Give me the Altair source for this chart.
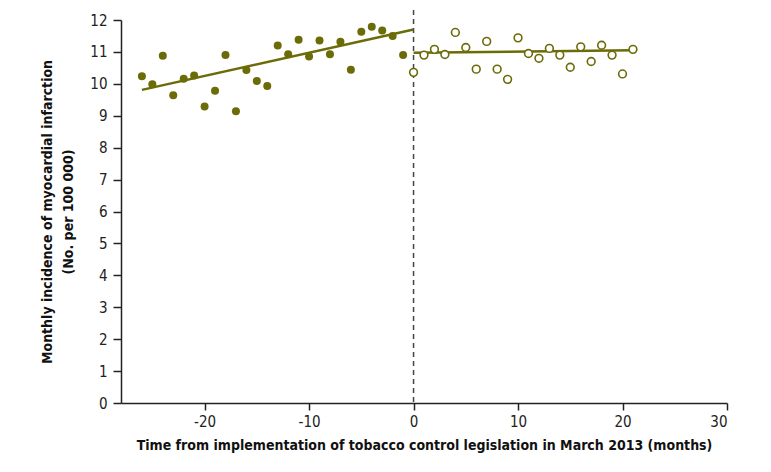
import altair as alt
import pandas as pd

# Pre-legislation months (filled points)
pre_month = [-26, -25, -24, -23, -22, -21, -20, -19, -18, -17, -16, -15, -14,
             -13, -12, -11, -10, -9, -8, -7, -6, -5, -4, -3, -2, -1]
pre_value = [10.24, 9.99, 10.88, 9.64, 10.16, 10.26, 9.29, 9.78, 10.90, 9.14, 10.43, 10.09, 9.93,
             11.20, 10.93, 11.38, 10.86, 11.36, 10.93, 11.32, 10.44, 11.63, 11.79, 11.67, 11.50, 10.90]

# Post-legislation months (open points)
post_month = list(range(0, 22))
post_value = [10.36, 10.90, 11.08, 10.92, 11.61, 11.14, 10.46, 11.33, 10.46, 10.14, 11.44,
              10.95, 10.80, 11.11, 10.90, 10.52, 11.16, 10.70, 11.21, 10.90, 10.31, 11.08]

# Fitted trend lines (segment end points)
pre_fit_month = [-26, 0]
pre_fit_value = [9.81, 11.70]
post_fit_month = [0, 21]
post_fit_value = [10.97, 11.05]

x_ticks = [-20, -10, 0, 10, 20, 30]
y_ticks = list(range(0, 13))

COLOR = "#6b6b08"
FONT = "'DejaVu Sans Condensed', Roboto, sans-serif"

pre_df = pd.DataFrame({"month": pre_month, "value": pre_value})
post_df = pd.DataFrame({"month": post_month, "value": post_value})
pre_fit = pd.DataFrame({"month": pre_fit_month, "value": pre_fit_value})
post_fit = pd.DataFrame({"month": post_fit_month, "value": post_fit_value})
zero_df = pd.DataFrame({"month": [0]})

W, H = 606, 383

xscale = alt.Scale(domain=[-28, 30], nice=False, zero=False)
yscale = alt.Scale(domain=[0, 12], nice=False)

xaxis = alt.Axis(values=x_ticks, title="Time from implementation of tobacco control legislation in March 2013 (months)",
                 grid=False, tickSize=7, labelPadding=4, titlePadding=9,
                 labelExpr="toString(datum.value)")
yaxis = alt.Axis(values=y_ticks, title=["Monthly incidence of myocardial infarction", "(No. per 100 000)"],
                 grid=False, tickSize=8, labelPadding=6, titlePadding=14, titleLineHeight=21)

x = alt.X("month:Q", scale=xscale, axis=xaxis)
y = alt.Y("value:Q", scale=yscale, axis=yaxis)

vline = alt.Chart(zero_df).mark_rule(color="#444444", strokeDash=[5, 4], strokeWidth=1.5).encode(
    x=alt.X("month:Q", scale=xscale), y=alt.value(-10), y2=alt.value(H))

pre_line = alt.Chart(pre_fit).mark_line(color=COLOR, strokeWidth=2.5).encode(x=x, y=y)
post_line = alt.Chart(post_fit).mark_line(color=COLOR, strokeWidth=2.5).encode(x=x, y=y)

pre_pts = alt.Chart(pre_df).mark_point(filled=True, color=COLOR, size=64, opacity=1, shape="circle").encode(x=x, y=y)
post_pts = alt.Chart(post_df).mark_point(filled=True, fill="white", stroke=COLOR, strokeWidth=1.6,
                                         size=60, opacity=1, shape="circle").encode(x=x, y=y)

chart = alt.layer(vline, pre_line, post_line, pre_pts, post_pts).properties(
    width=W, height=H,
    autosize=alt.AutoSizeParams(type="none"),
    padding={"left": 113, "top": 12, "right": 30, "bottom": 60},
).configure_view(stroke=None).configure_axis(
    domainColor="#222222", tickColor="#222222", domainWidth=1.5, tickWidth=1.5,
    labelFont=FONT, titleFont=FONT, labelFontSize=15, titleFontSize=14,
    labelColor="#222222", titleColor="#111111", titleFontWeight="bold",
)

chart.save("out.html", embed_options={"renderer": "svg", "actions": False})
